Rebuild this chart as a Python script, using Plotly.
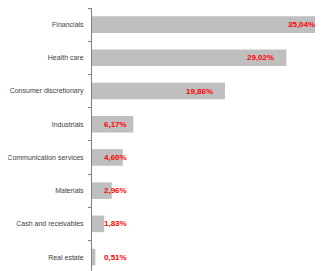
import plotly.graph_objects as go

categories = ["Financials", "Health care", "Consumer discretionary", "Industrials",
              "Communication services", "Materials", "Cash and receivables", "Real estate"]
values = [35.04, 29.02, 19.86, 6.17, 4.60, 2.96, 1.83, 0.51]
labels = ["35,04%", "29,02%", "19,86%", "6,17%", "4,60%", "2,96%", "1,83%", "0,51%"]

# plot bottom-to-top so Financials is on top
cats_r = categories[::-1]
vals_r = values[::-1]
labs_r = labels[::-1]

FONT = "Liberation Sans, Arial, sans-serif"
XMAX = 34.5

fig = go.Figure(go.Bar(
    x=vals_r, y=cats_r, orientation="h",
    marker=dict(color="#bfbfbf", line=dict(width=0)),
    hoverinfo="skip",
))

annotations = []
for c, v, t in zip(cats_r, vals_r, labs_r):
    lab_font = dict(family=FONT, size=8, color="#ff0000", weight="bold")
    if v > 10:
        annotations.append(dict(x=v / XMAX, y=c, xref="paper", yref="y", text=t, showarrow=False,
                                xanchor="right", xshift=-10, font=lab_font))
    else:
        annotations.append(dict(x=0, y=c, xref="paper", yref="y", text=t, showarrow=False,
                                xanchor="left", xshift=10, font=lab_font))

fig.update_layout(
    width=315, height=263,
    margin=dict(l=84, r=0, t=0, b=0, autoexpand=False),
    paper_bgcolor="white", plot_bgcolor="white",
    bargap=0.5,
    showlegend=False,
    annotations=annotations,
    xaxis=dict(range=[0, XMAX], visible=False, fixedrange=True, automargin=False),
    yaxis=dict(
        type="category", categoryorder="array", categoryarray=cats_r,
        range=[-0.42, 7.5], automargin=False,
        showline=True, linecolor="#808080", linewidth=1,
        ticks="outside", ticklen=3, tickcolor="#808080", tickson="boundaries",
        ticklabelstandoff=6,
        tickfont=dict(family=FONT, size=7, color="#404040"),
        showgrid=False, zeroline=False, fixedrange=True,
    ),
)

fig.write_html("out.html")
